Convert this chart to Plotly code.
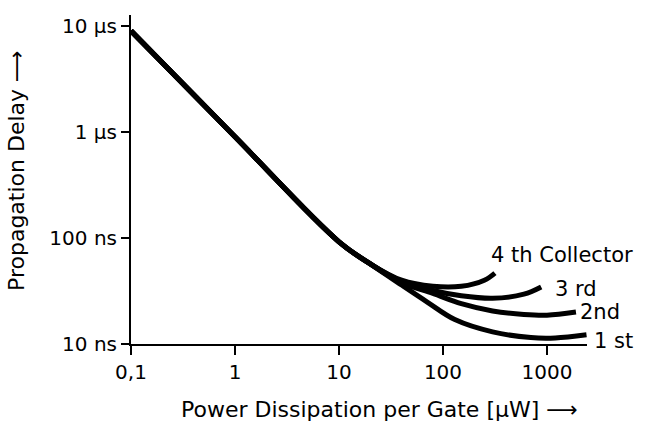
import plotly.graph_objects as go

# Power dissipation per gate [µW] and propagation delay [ns]
x_1st = [0.1, 1, 10, 20, 40, 70, 130, 300, 700, 1200, 2400]
y_1st = [9000, 900, 92, 57, 36, 25, 17, 13, 11.5, 11.4, 12.2]

x_2nd = [0.1, 1, 10, 20, 40, 80, 150, 300, 600, 1000, 1900]
y_2nd = [9000, 900, 92, 57, 38, 30, 24, 20.5, 19, 18.7, 20]

x_3rd = [0.1, 1, 10, 20, 40, 80, 150, 300, 600, 880]
y_3rd = [9000, 900, 92, 57, 39, 32, 28.5, 27, 29.5, 34.5]

x_4th = [0.1, 1, 10, 20, 40, 80, 150, 250, 316]
y_4th = [9000, 900, 92, 57, 40, 35, 35, 40, 46.7]

x_ticks = [0.1, 1, 10, 100, 1000]
x_ticklabels = ["0,1", "1", "10", "100", "1000"]
y_ticks = [10, 100, 1000, 10000]
y_ticklabels = ["10 ns", "100 ns", "1 µs", "10 µs"]

curve_labels = ["1 st", "2nd", "3 rd", "4 th Collector"]

FONT = "DejaVu Sans"

fig = go.Figure()
for xs, ys in [(x_1st, y_1st), (x_2nd, y_2nd), (x_3rd, y_3rd), (x_4th, y_4th)]:
    fig.add_trace(go.Scatter(x=xs, y=ys, mode="lines",
                             line=dict(color="black", width=5, shape="spline", smoothing=1.0),
                             showlegend=False, hoverinfo="skip"))

# label placement (paper fractions)
label_pos = [(1.011, 0.009), (0.980, 0.097), (0.925, 0.167), (0.785, 0.27)]
for t, (px, py) in zip(curve_labels, label_pos):
    fig.add_annotation(x=px, y=py, xref="paper", yref="paper", text=t,
                       showarrow=False, xanchor="left", yanchor="middle",
                       font=dict(family=FONT, size=21, color="black"))

fig.add_annotation(x=0.546, xref="paper", y=-0.2, yref="paper",
                   text="Power Dissipation per Gate [µW] ⟶", showarrow=False,
                   xanchor="center", yanchor="middle",
                   font=dict(family=FONT, size=22, color="black"))
fig.add_annotation(x=-0.25, xref="paper", y=0.526, yref="paper",
                   text="Propagation Delay ⟶", showarrow=False, textangle=-90,
                   xanchor="center", yanchor="middle",
                   font=dict(family=FONT, size=22, color="black"))

fig.update_layout(
    width=654, height=425,
    margin=dict(l=131, r=67, t=15, b=81),
    paper_bgcolor="white", plot_bgcolor="white",
    font=dict(family=FONT, size=20, color="black"),
    xaxis=dict(type="log", range=[-1, 3.385], tickvals=x_ticks, ticktext=x_ticklabels,
               showgrid=False, zeroline=False, showline=True, linecolor="black", linewidth=2,
               ticks="outside", ticklen=9, tickwidth=2, tickcolor="black",
               tickfont=dict(family=FONT, size=20)),
    yaxis=dict(type="log", range=[1, 4.104], tickvals=y_ticks, ticktext=y_ticklabels,
               showgrid=False, zeroline=False, showline=True, linecolor="black", linewidth=2,
               ticks="outside", ticklen=8, tickwidth=2, tickcolor="black",
               tickfont=dict(family=FONT, size=20)),
)

fig.write_html("out.html", config={"displayModeBar": False},
               post_script="document.body.style.margin='0';")
